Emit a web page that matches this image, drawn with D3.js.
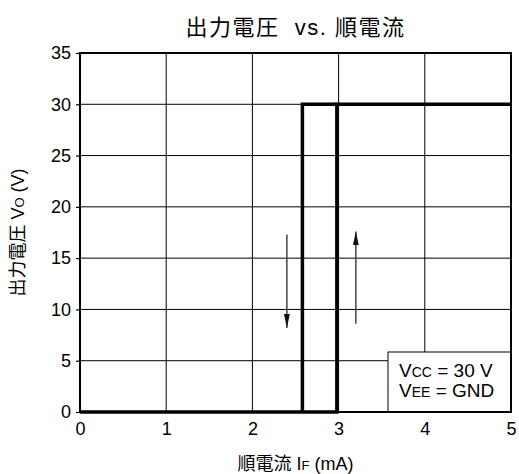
<!DOCTYPE html>
<html>
<head>
<meta charset="utf-8">
<script src="https://cdn.jsdelivr.net/npm/d3@7"></script>
<style>
  body { margin: 0; background: #fff; }
  text { font-family: "Liberation Sans", Arial, "Noto Sans CJK JP", sans-serif; fill: #000; }
</style>
</head>
<body>
<div id="chart"></div>
<script>
// data
var xTicks = [0, 1, 2, 3, 4, 5];
var yTicks = [0, 5, 10, 15, 20, 25, 30, 35];
// rising curve (IF increasing)
var risingX = [0, 2.98, 2.98, 5];
var risingY = [0, 0, 30, 30];
// falling curve (IF decreasing)
var fallingX = [2.98, 2.58, 2.58];
var fallingY = [30, 30, 0];
// direction arrows: [x, yFrom, yTo]
var arrowX = [2.4, 3.2];
var arrowFrom = [17.3, 8.6];
var arrowTo = [8.2, 17.6];

var svg_width = 519, svg_height = 474;
var margin = {top: 53, right: 8, bottom: 62, left: 80};
var w = svg_width - margin.left - margin.right;
var h = svg_height - margin.top - margin.bottom;

var svg = d3.select("#chart").append("svg")
  .attr("width", svg_width)
  .attr("height", svg_height);

svg.append("defs").append("marker")
  .attr("id", "head")
  .attr("viewBox", "0 0 14 6")
  .attr("refX", 14).attr("refY", 3)
  .attr("markerWidth", 14).attr("markerHeight", 6)
  .attr("markerUnits", "userSpaceOnUse")
  .attr("orient", "auto")
  .append("path")
  .attr("d", "M0,0 L14,3 L0,6 Z")
  .attr("fill", "#111");

var g = svg.append("g")
  .attr("transform", "translate(" + margin.left + "," + margin.top + ")");

var x = d3.scaleLinear().domain([0, 5]).range([0, w]);
var y = d3.scaleLinear().domain([0, 35]).range([h, 0]);

// grid
g.append("g").selectAll("line").data(xTicks.slice(1, -1)).enter().append("line")
  .attr("x1", function(d) { return x(d); }).attr("x2", function(d) { return x(d); })
  .attr("y1", 0).attr("y2", h)
  .attr("stroke", "#000").attr("stroke-width", 1);
g.append("g").selectAll("line").data(yTicks.slice(1, -1)).enter().append("line")
  .attr("y1", function(d) { return y(d); }).attr("y2", function(d) { return y(d); })
  .attr("x1", 0).attr("x2", w)
  .attr("stroke", "#000").attr("stroke-width", 1);

// axes
var xAxis = g.append("g")
  .attr("transform", "translate(0," + h + ")")
  .call(d3.axisBottom(x).tickValues(xTicks).tickSize(0).tickPadding(10).tickFormat(d3.format("d")));
xAxis.select(".domain").remove();
xAxis.selectAll("text").attr("font-size", "18px");

var yAxis = g.append("g")
  .call(d3.axisLeft(y).tickValues(yTicks).tickSize(4).tickPadding(5).tickFormat(d3.format("d")));
yAxis.select(".domain").remove();
yAxis.selectAll("line").attr("stroke-width", 1.2);
yAxis.selectAll("text").attr("font-size", "18px");

// curves
var line = d3.line()
  .x(function(d) { return x(d[0]); })
  .y(function(d) { return y(d[1]); });

g.append("path")
  .datum(d3.zip(risingX, risingY))
  .attr("d", line)
  .attr("fill", "none").attr("stroke", "#000").attr("stroke-width", 3.5);
g.append("path")
  .datum(d3.zip(fallingX, fallingY))
  .attr("d", line)
  .attr("fill", "none").attr("stroke", "#000").attr("stroke-width", 3.5);

// arrows
g.append("g").selectAll("line").data(arrowX).enter().append("line")
  .attr("x1", function(d) { return x(d); })
  .attr("x2", function(d) { return x(d); })
  .attr("y1", function(d, i) { return y(arrowFrom[i]); })
  .attr("y2", function(d, i) { return y(arrowTo[i]); })
  .attr("stroke", "#444").attr("stroke-width", 1.5)
  .attr("marker-end", "url(#head)");

// condition box
var box = g.append("g").attr("transform", "translate(" + (w - 123) + "," + (h - 60) + ")");
box.append("rect")
  .attr("width", 123).attr("height", 60)
  .attr("fill", "#fff").attr("stroke", "#000").attr("stroke-width", 1);
var t1 = box.append("text").attr("x", 11).attr("y", 25).attr("font-size", "19px");
t1.append("tspan").text("V");
t1.append("tspan").attr("font-size", "14px").text("CC");
t1.append("tspan").text(" = 30 V");
var t2 = box.append("text").attr("x", 11).attr("y", 45).attr("font-size", "19px");
t2.append("tspan").text("V");
t2.append("tspan").attr("font-size", "14px").text("EE");
t2.append("tspan").text(" = GND");

// frame
g.append("rect")
  .attr("width", w).attr("height", h)
  .attr("fill", "none").attr("stroke", "#000").attr("stroke-width", 2);

// title
svg.append("text")
  .attr("x", margin.left + w / 2).attr("y", 35)
  .attr("text-anchor", "middle").attr("font-size", "22px")
  .attr("letter-spacing", "1.5px")
  .style("white-space", "pre")
  .text("出力電圧  vs. 順電流");

// x label
var xl = svg.append("text")
  .attr("x", margin.left + w / 2).attr("y", 470)
  .attr("text-anchor", "middle").attr("font-size", "18px");
xl.append("tspan").text("順電流 I");
xl.append("tspan").attr("font-size", "13px").text("F");
xl.append("tspan").text(" (mA)");

// y label
var yl = svg.append("text")
  .attr("transform", "translate(24," + (margin.top + h / 2) + ") rotate(-90)")
  .attr("text-anchor", "middle").attr("font-size", "18px");
yl.append("tspan").text("出力電圧 V");
yl.append("tspan").attr("font-size", "13px").text("O");
yl.append("tspan").text(" (V)");
</script>
</body>
</html>
